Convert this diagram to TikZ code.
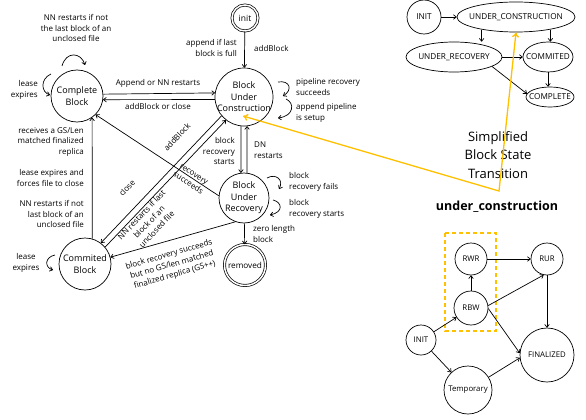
\documentclass[tikz,border=0pt]{standalone}
\usepackage{fontspec}
\setmainfont{Open Sans}
\usetikzlibrary{arrows.meta,shapes.geometric,calc}
\definecolor{ylw}{RGB}{255,192,0}
\begin{document}
\begin{tikzpicture}[x=1pt,y=-1pt,
  >={To[length=3.5pt,width=5pt]},
  st/.style={draw, circle, line width=0.7pt, inner sep=-2pt, align=center, font=\fontsize{9}{11.5}\selectfont},
  sm/.style={draw, circle, line width=0.7pt, inner sep=-2pt, align=center, font=\fontsize{7.8}{9}\selectfont},
  el/.style={draw, ellipse, line width=0.7pt, inner sep=0pt},
  eltext/.style={font=\fontsize{8.2}{10}\selectfont},
  lbl/.style={font=\fontsize{8}{10.5}\selectfont, inner sep=0pt},
  e/.style={->, line width=0.7pt},
  yl/.style={draw=ylw, line width=1.3pt}
]
\useasboundingbox (0,0) rectangle (586,420);

% ---------- left diagram: nodes ----------
\node[st, double, double distance=1.5pt, minimum size=26pt, font=\fontsize{8.5}{10}\selectfont] (init) at (245,18) {init};
\node[st, inner sep=-4pt, minimum size=58pt] (buc) at (244,97) {Block\\Under\\Construction};
\node[st, minimum size=52pt] (cb) at (77,96) {Complete\\Block};
\node[st, minimum size=50pt] (bur) at (244,198) {Block\\Under\\Recovery};
\node[st, minimum size=52pt] (cm) at (85,264) {Commited\\Block};
\node[st, double, double distance=1.5pt, minimum size=41pt, font=\fontsize{8.2}{10}\selectfont] (rem) at (245,265) {removed};

% ---------- left diagram: connectors ----------
\draw[e] (init) -- (buc);
\node[lbl, anchor=east, align=right] (l1) at (237,48) {append if last\\block is full};
\node[lbl, anchor=west] (l2) at (254,49) {addBlock};

\draw[e] (cb.4) -- (buc.172);
\draw[e] (buc.185) -- (cb.-8);
\node[lbl] (l3) at (158,83) {Append or NN restarts};
\node[lbl] (l4) at (158,106) {addBlock or close};

\draw[e] (buc.220) -- (cm.53);
\draw[e] (cm.40) -- (buc.232);
\node[lbl, rotate=46.4] (l5) at (177,137) {addBlock};
\node[lbl, rotate=46.4] (l6) at (127,188) {close};
\node[lbl, rotate=46.4, align=center] (l7) at (149,222) {NN restarts if last\\block of an\\unclosed file};

\draw[e] (bur.175) -- (cb.-45);
\node[lbl, rotate=-33.3, align=center] (l8) at (191,179) {recovery\\succeeds};

\draw[e] (bur.250) -- (cm.15);
\node[lbl, rotate=16, align=center] (l9) at (172,265) {block recovery succeeds\\but no GS/len matched\\finalized replica (GS++)};

\draw[e] (cm.74) -- (cb.-55);
\node[lbl, anchor=east, align=right] (l10) at (84,142) {receives a GS/Len\\matched finalized\\replica};
\node[lbl, anchor=east, align=right] (l11) at (84,178) {lease expires and\\forces file to close};
\node[lbl, anchor=east, align=right] (l12) at (84,214) {NN restarts if not\\last block of an\\unclosed file};

\draw[e] (buc.264) -- (bur.97);
\draw[e] (bur.83) -- (buc.276);
\node[lbl, anchor=east, align=right] (l13) at (235,151) {block\\recovery\\starts};
\node[lbl, anchor=west, align=left] (l14) at (254,150) {DN\\restarts};

\draw[e] (bur) -- (rem);
\node[lbl, anchor=west, align=left] (l15) at (253,234) {zero length\\block};

% self loops
\draw[e] (62,66) .. controls (66,51) and (81,52) .. (85,65);
\node[lbl, align=center] (l16) at (76,28) {NN restarts if not\\the last block of an\\unclosed file};
\draw[e] (51,74) .. controls (40,79) and (41,92) .. (50,95);
\node[lbl, anchor=east, align=right] (l17) at (38,90) {lease\\expires};

\draw[e] (278,82) .. controls (290,80) and (293,90) .. (283,96);
\node[lbl, anchor=west, align=left] (l18) at (296,87) {pipeline recovery\\succeeds};
\draw[e] (286,99) .. controls (295,103) and (294,116) .. (278,118);
\node[lbl, anchor=west, align=left] (l19) at (296,113) {append pipeline\\is setup};

\draw[e] (267,178) .. controls (276,173) and (284,180) .. (279,189);
\node[lbl, anchor=west, align=left] (l20) at (289,182) {block\\recovery fails};
\draw[e] (273,200) .. controls (282,202) and (284,212) .. (270,215);
\node[lbl, anchor=west, align=left] (l21) at (289,209) {block\\recovery starts};

\draw[e] (55,255) .. controls (45,257) and (44,267) .. (53,270);
\node[lbl, align=center] (l22) at (26,263) {lease\\expires};

% ---------- top-right diagram ----------
\node[draw, circle, line width=0.7pt, minimum size=34pt, inner sep=0pt, eltext] (tinit) at (424,17) {INIT};
\node[el, minimum width=118pt, minimum height=30pt, label={[eltext]center:UNDER\_CONSTRUCTION}] (uc) at (516,17) {};
\node[el, minimum width=96pt, minimum height=30pt, label={[eltext]center:UNDER\_RECOVERY}] (ur) at (454,57) {};
\node[el, minimum width=50pt, minimum height=30pt, label={[eltext]center:COMMITED}] (cm2) at (548,57) {};
\node[el, minimum width=48pt, minimum height=20pt, label={[eltext]center:COMPLETE}] (cp) at (550,97) {};

\draw[e] (tinit) -- (uc.west);
\draw[e] (uc.200) -- (uc.200 |- ur.north);
\draw[e] (uc.340) -- (uc.340 |- cm2.north);
\draw[e] (ur.east) -- (cm2.west);
\draw[e] (ur.-14) -- (cp.172);
\draw[e] (cm2.south) -- (cm2.south |- cp.north);

\node[font=\fontsize{13}{18.5}\selectfont, align=center] (title) at (498,155) {Simplified\\Block State\\Transition};
\node[font=\bfseries\fontsize{12.5}{15}\selectfont] (uct) at (497,207) {under\_construction};

% ---------- bottom-right diagram ----------
\draw[yl, dash pattern=on 4pt off 3pt] (445,233) rectangle (496,331);
\node[sm, minimum size=32pt] (rwr) at (471,259) {RWR};
\node[sm, minimum size=34pt] (rbw) at (471,308) {RBW};
\node[sm, minimum size=32pt] (rur) at (547,259) {RUR};
\node[sm, minimum size=30pt] (init2) at (421,340) {INIT};
\node[sm, minimum size=48pt] (tmp) at (468,390) {Temporary};
\node[sm, minimum size=54pt] (fin) at (547,355) {FINALIZED};

\draw[e] (rwr) -- (rur);
\draw[e] (rbw) -- (rwr);
\draw[e] (rbw.8) -- (rur.258);
\draw[e] (rbw.-2) -- (fin.176);
\draw[e] (init2) -- (rbw);
\draw[e] (init2) -- (tmp);
\draw[e] (tmp) -- (fin.186);
\draw[e] (rur) -- (fin);

% ---------- yellow pointer ----------
\coordinate (ybend) at (499,191);
\coordinate (ytip) at ($(buc)+(-1,19)$);
\draw[yl, {To[length=5pt,width=7pt]}-{To[length=5pt,width=7pt]}] (uc.south) -- (ybend) -- (ytip);
\end{tikzpicture}
\end{document}
